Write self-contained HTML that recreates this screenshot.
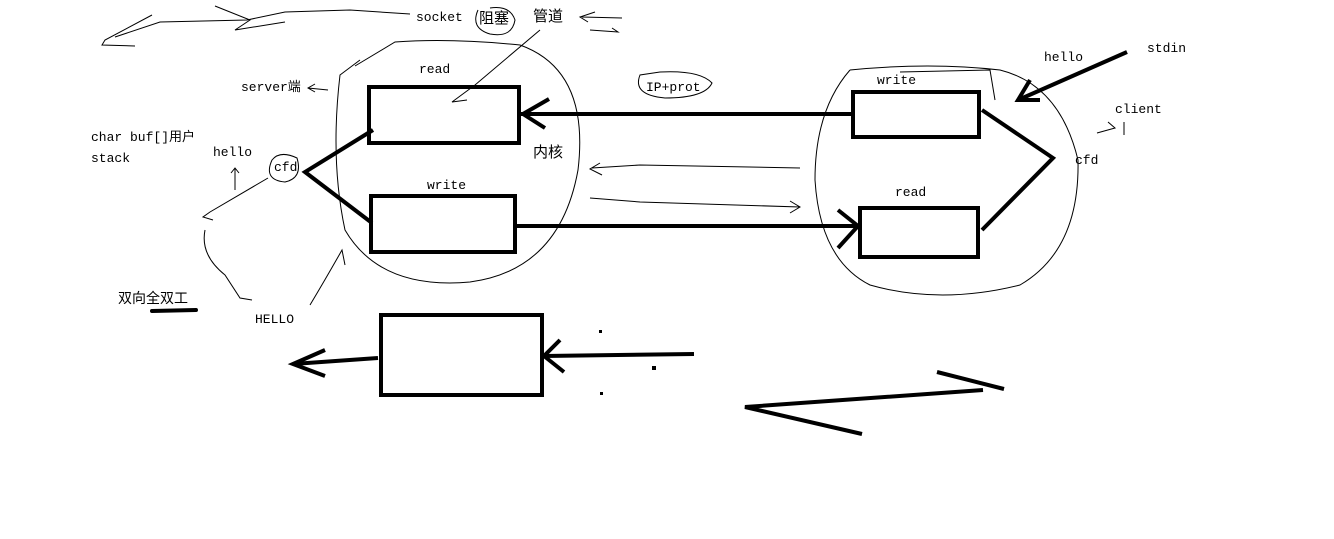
<!DOCTYPE html>
<html><head><meta charset="utf-8"><style>
html,body{margin:0;padding:0;background:#fff;width:1334px;height:539px;overflow:hidden}
text{font-family:"Liberation Mono","Noto Sans CJK SC",monospace;font-size:13px;fill:#000}
.t{fill:none;stroke:#000;stroke-width:1}
.b{fill:none;stroke:#000;stroke-width:4}
</style></head><body>
<svg width="1334" height="539" viewBox="0 0 1334 539" xmlns="http://www.w3.org/2000/svg">
<!-- thin scribbles top -->
<path class="t" d="M152 15 L105 40 L102 45 L135 46"/>
<path class="t" d="M115 37 L160 22 L247 20 L285 12 L350 10 L410 14"/>
<path class="t" d="M215 6 L250 20 L235 30 L285 22"/>
<text x="416" y="21">socket</text>
<text x="479" y="23" style="font-size:15px">阻塞</text>
<path class="t" d="M478 10 Q470 28 490 34 Q512 38 515 20 Q510 5 490 8"/>
<text x="533" y="21" style="font-size:15px">管道</text>
<path class="t" d="M595 12 L580 17 L588 22 M582 17 L622 18"/>
<path class="t" d="M590 30 L618 32 L612 28"/>
<path class="t" d="M540 30 L475 85 L452 102 L467 100"/>
<!-- server ellipse -->
<path class="t" d="M360 60 L340 75 Q330 160 345 230 Q380 290 470 282 Q560 270 578 170 Q590 70 520 45 Q450 38 395 42 L355 66"/>
<text x="419" y="73">read</text>
<text x="241" y="91">server端</text>
<path class="t" d="M315 84 L308 88 L315 92 M308 88 L328 90"/>
<rect class="b" x="369" y="87" width="150" height="56"/>
<text x="91" y="141">char buf[]用户</text>
<text x="91" y="162">stack</text>
<text x="213" y="156">hello</text>
<path class="t" d="M235 168 L235 190 M231 173 L235 168 L239 173"/>
<path class="t" d="M272 160 Q263 180 285 182 Q303 178 297 158 Q280 150 272 160"/>
<text x="274" y="171">cfd</text>
<path class="t" d="M268 178 L210 212 L203 217 L213 220"/>
<path class="b" d="M373 130 L305 172 L372 223"/>
<text x="427" y="189">write</text>
<rect class="b" x="371" y="196" width="144" height="56"/>
<text x="533" y="157" style="font-size:15px">内核</text>
<path class="t" d="M205 230 Q200 255 225 275 L240 298 L252 300"/>
<path class="t" d="M310 305 Q325 280 342 250 L345 265"/>
<text x="118" y="303" style="font-size:14px">双向全双工</text>
<path d="M152 311 L196 310" stroke="#000" stroke-width="4" stroke-linecap="round"/>
<text x="255" y="323">HELLO</text>
<!-- middle arrows -->
<path class="b" d="M853 114 L519 114"/>
<path class="b" d="M549 99 L523 114 L545 128"/>
<path class="t" d="M640 75 Q632 95 665 98 Q705 98 712 83 Q700 70 660 72 Z"/>
<text x="646" y="91">IP+prot</text>
<path class="t" d="M600 163 L590 169 L602 175 M592 168 L640 165 L800 168"/>
<path class="t" d="M590 198 L640 202 L800 207 M790 201 L800 207 L790 213"/>
<path class="b" d="M515 226 L858 226"/>
<path class="b" d="M838 210 L858 226 L838 248"/>
<!-- client ellipse -->
<path class="t" d="M850 70 Q815 110 815 180 Q820 260 870 285 Q940 305 1020 285 Q1080 250 1078 160 Q1060 85 1000 70 Q930 62 850 70"/>
<path class="t" d="M900 72 L990 70 L995 100"/>
<text x="877" y="84">write</text>
<rect class="b" x="853" y="92" width="126" height="45"/>
<text x="895" y="196">read</text>
<rect class="b" x="860" y="208" width="118" height="49"/>
<path class="b" d="M982 110 L1053 158 L982 230"/>
<text x="1075" y="164">cfd</text>
<text x="1044" y="61">hello</text>
<text x="1147" y="52">stdin</text>
<path class="b" d="M1127 52 L1018 100"/>
<path class="b" d="M1030 80 L1018 100 L1040 100"/>
<text x="1115" y="113">client</text>
<path class="t" d="M1097 133 L1115 128 L1108 122 M1124 122 L1124 135"/>
<!-- bottom -->
<rect class="b" x="381" y="315" width="161" height="80"/>
<path class="b" d="M694 354 L544 356"/>
<path class="b" d="M560 340 L544 356 L564 372"/>
<path class="b" d="M378 358 L293 364"/>
<path class="b" d="M325 350 L293 364 L325 376"/>
<rect x="599" y="330" width="3" height="3" fill="#000"/>
<rect x="652" y="366" width="4" height="4" fill="#000"/>
<rect x="600" y="392" width="3" height="3" fill="#000"/>
<path class="b" d="M983 390 L745 407 L862 434"/>
<path class="b" d="M937 372 L1004 389"/>
</svg>
</body></html>
